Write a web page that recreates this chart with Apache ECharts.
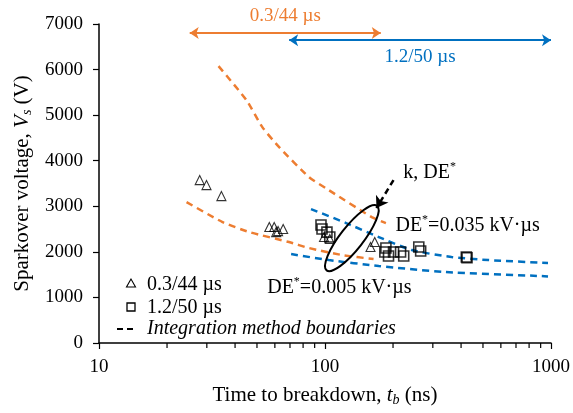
<!DOCTYPE html>
<html>
<head>
<meta charset="utf-8">
<script src="https://cdn.jsdelivr.net/npm/echarts@6/dist/echarts.min.js"></script>
<style>
  html, body { margin: 0; padding: 0; background: #fff; }
  #chart { width: 573px; height: 413px; }
</style>
</head>
<body>
<div id="chart"></div>
<script>
// data: [time to breakdown (ns), sparkover voltage (V)]
var tri_03_44 = [[27.9, 3575], [29.9, 3465], [34.8, 3224], [56.7, 2544], [59.6, 2544], [60.8, 2434],
                 [62.0, 2456], [65.3, 2500], [99.0, 2325], [105, 2281], [159, 2105], [166, 2215]];
var sq_12_50 = [[96, 2588], [97, 2500], [102, 2434], [105, 2325], [186, 2083], [184, 1996], [191, 1908],
                [201, 1996], [216, 1996], [223, 1908], [260, 2105], [265, 2018], [422, 1886], [425, 1870]];
var orangeUpper = [[33.8, 6075], [44.9, 5329], [52.8, 4737], [62.7, 4298], [85, 3640], [104, 3355], [161, 2763], [186, 2632]];
var orangeLower = [[24.4, 3092], [35.2, 2654], [46.3, 2434], [69.3, 2215], [85, 2083], [119, 1930], [164, 1842]];
var blueUpper = [[86.7, 2939], [124, 2632], [173, 2325], [242, 2039], [363, 1886], [528, 1820], [970, 1754]];
var blueLower = [[70.8, 1952], [104, 1820], [173, 1689], [341, 1557], [903, 1469], [970, 1460]];

// waveform time ranges (arrows at top)
var range_03_44 = [25.2, 176.5];
var range_12_50 = [69.4, 1000];

// minor ticks of the log axis
var minorTicks = [20, 30, 40, 50, 60, 70, 80, 90, 200, 300, 400, 500, 600, 700, 800, 900];

var ORANGE = '#ED7D31';
var BLUE = '#0070C0';
var FONT = 'Liberation Serif';

var chart = echarts.init(document.getElementById('chart'));

function dashLine(name, data, color) {
    return {
        name: name,
        type: 'line',
        data: data,
        showSymbol: false,
        smooth: 0.2,
        silent: true,
        lineStyle: { color: color, width: 2.5, type: [7, 5] },
        z: 2
    };
}

function rangeArrow(color, range, v) {
    return {
        silent: true,
        symbol: ['arrow', 'arrow'],
        symbolSize: [9, 9],
        lineStyle: { color: color, width: 2, type: 'solid' },
        label: { show: false },
        data: [[{ coord: [range[0], v] }, { coord: [range[1], v] }]]
    };
}

var tickRich = { a: { fontFamily: FONT, fontSize: 19, color: '#000' } };

var nameRich = {
    n: { fontFamily: FONT, fontSize: 21, color: '#000', lineHeight: 24 },
    i: { fontFamily: FONT, fontSize: 21, color: '#000', fontStyle: 'italic', lineHeight: 24 },
    b: { fontFamily: FONT, fontSize: 14, color: '#000', fontStyle: 'italic', verticalAlign: 'bottom', lineHeight: 14 }
};

var option = {
    animation: false,
    textStyle: { fontFamily: FONT },
    grid: { left: 99, right: 20, top: 24, bottom: 70 },
    xAxis: {
        type: 'log',
        logBase: 10,
        min: 10,
        max: 1000,
        name: '{n|Time to breakdown, }{i|t}{b|b}{n| (ns)}',
        nameLocation: 'middle',
        nameGap: 40,
        nameTextStyle: { rich: nameRich },
        axisLine: { lineStyle: { color: '#000', width: 1.5 } },
        axisTick: { show: true, inside: false, length: 6, lineStyle: { color: '#000', width: 1.2 } },
        axisLabel: {
            margin: 15,
            formatter: function (v) { return '{a|' + Math.round(v) + '}'; },
            rich: tickRich
        },
        splitLine: { show: false }
    },
    yAxis: {
        type: 'value',
        min: 0,
        max: 7000,
        interval: 1000,
        name: '{n|Sparkover voltage, }{i|V}{b|s}{n| (V)}',
        nameLocation: 'middle',
        nameGap: 58,
        nameTextStyle: { rich: nameRich },
        axisLine: { show: true, lineStyle: { color: '#000', width: 1.5 } },
        axisTick: { show: true, inside: false, length: 6, lineStyle: { color: '#000', width: 1.2 } },
        axisLabel: {
            margin: 16,
            formatter: function (v) { return '{a|' + v + '}'; },
            rich: tickRich
        },
        splitLine: { show: false }
    },
    series: [
        {
            type: 'custom',
            name: 'minorTicks',
            silent: true,
            clip: false,
            data: minorTicks.map(function (t) { return [t, 0]; }),
            renderItem: function (params, api) {
                var p = api.coord([api.value(0), 0]);
                return {
                    type: 'line',
                    shape: { x1: p[0], y1: p[1], x2: p[0], y2: p[1] + 5 },
                    style: { stroke: '#000', lineWidth: 1.2 }
                };
            }
        },
        Object.assign(dashLine('orangeUpper', orangeUpper, ORANGE), {
            markLine: rangeArrow(ORANGE, range_03_44, 6800)
        }),
        dashLine('orangeLower', orangeLower, ORANGE),
        Object.assign(dashLine('blueUpper', blueUpper, BLUE), {
            markLine: rangeArrow(BLUE, range_12_50, 6645)
        }),
        dashLine('blueLower', blueLower, BLUE),
        {
            name: '0.3/44 µs',
            type: 'scatter',
            data: tri_03_44,
            symbol: 'triangle',
            symbolSize: 9,
            itemStyle: { color: 'rgba(0,0,0,0)', borderColor: '#000', borderWidth: 1.1 },
            z: 4,
            markLine: {
                silent: true,
                symbol: ['none', 'arrow'],
                symbolSize: [11, 11],
                lineStyle: { color: '#000', width: 2.5, type: [6, 4] },
                label: { show: false },
                data: [[{ coord: [201, 3575] }, { coord: [169, 2961] }]]
            }
        },
        {
            name: '1.2/50 µs',
            type: 'scatter',
            data: sq_12_50,
            symbol: 'rect',
            symbolSize: 10,
            itemStyle: { color: 'rgba(0,0,0,0)', borderColor: '#000', borderWidth: 1.6 },
            z: 5
        }
    ]
};

chart.setOption(option);

// annotations placed in data space
function px(t, v) { return chart.convertToPixel({ gridIndex: 0 }, [t, v]); }
var supRich = {
    n: { fontFamily: FONT, fontSize: 20, fill: '#000', lineHeight: 24 },
    s: { fontFamily: FONT, fontSize: 12, fill: '#000', verticalAlign: 'top', lineHeight: 24 }
};
var ell = px(131.5, 2303);
var kde = px(222, 3728);
var de35 = px(205, 2566);
var de05 = px(55.5, 1206);
var lblOrange = px(Math.sqrt(range_03_44[0] * range_03_44[1]), 6800);
var lblBlue = px(Math.sqrt(range_12_50[0] * range_12_50[1]), 6645);

var legendX = 131, legendTextX = 147;

chart.setOption({
    graphic: [
        {
            type: 'text', x: lblOrange[0], y: lblOrange[1] - 17,
            style: { text: '0.3/44 µs', font: '19px "Liberation Serif"', fill: ORANGE, align: 'center', verticalAlign: 'middle' }, z: 10
        },
        {
            type: 'text', x: lblBlue[0], y: lblBlue[1] + 17,
            style: { text: '1.2/50 µs', font: '19px "Liberation Serif"', fill: BLUE, align: 'center', verticalAlign: 'middle' }, z: 10
        },
        {
            type: 'ellipse', x: ell[0], y: ell[1], rotation: 52 * Math.PI / 180,
            shape: { cx: 0, cy: 0, rx: 41, ry: 11.5 },
            style: { fill: 'none', stroke: '#000', lineWidth: 2 }, z: 10
        },
        {
            type: 'text', x: kde[0], y: kde[1],
            style: { text: '{n|k, DE}{s|*}', rich: supRich, verticalAlign: 'middle', align: 'left' }, z: 10
        },
        {
            type: 'text', x: de35[0], y: de35[1],
            style: { text: '{n|DE}{s|*}{n|=0.035 kV·µs}', rich: supRich, verticalAlign: 'middle', align: 'left' }, z: 10
        },
        {
            type: 'text', x: de05[0], y: de05[1],
            style: { text: '{n|DE}{s|*}{n|=0.005 kV·µs}', rich: supRich, verticalAlign: 'middle', align: 'left' }, z: 10
        },
        // legend
        {
            type: 'polygon',
            shape: { points: [[legendX, 279], [legendX - 4.5, 287], [legendX + 4.5, 287]] },
            style: { fill: 'none', stroke: '#000', lineWidth: 1.1 }, z: 10
        },
        {
            type: 'text', x: legendTextX, y: 285,
            style: { text: '0.3/44 µs', font: '20px "Liberation Serif"', fill: '#000', verticalAlign: 'middle' }, z: 10
        },
        {
            type: 'rect', shape: { x: legendX - 4, y: 303, width: 8, height: 8 },
            style: { fill: 'none', stroke: '#000', lineWidth: 1.3 }, z: 10
        },
        {
            type: 'text', x: legendTextX, y: 308,
            style: { text: '1.2/50 µs', font: '20px "Liberation Serif"', fill: '#000', verticalAlign: 'middle' }, z: 10
        },
        {
            type: 'line', shape: { x1: 117, y1: 329, x2: 133, y2: 329 },
            style: { stroke: '#000', lineWidth: 2, lineDash: [6, 4] }, z: 10
        },
        {
            type: 'text', x: legendTextX, y: 329,
            style: { text: 'Integration method boundaries', font: 'italic 20px "Liberation Serif"', fill: '#000', verticalAlign: 'middle' }, z: 10
        }
    ]
});
</script>
</body>
</html>
